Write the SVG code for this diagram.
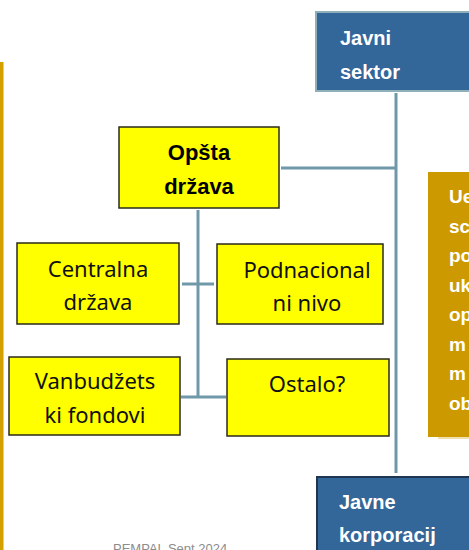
<svg xmlns="http://www.w3.org/2000/svg" width="469" height="550" viewBox="0 0 469 550">
<style>
.y{fill:#ffff00;stroke:#2a2a1a;stroke-width:1.5}
.b{fill:#336699}
.tn{font-family:"Noto Sans","Liberation Sans",sans-serif;font-size:22px;fill:#111;text-anchor:middle}
.tb{font-family:"Liberation Sans",Arial,sans-serif;font-weight:bold;font-size:22px;fill:#000;text-anchor:middle}
.tw{font-family:"Liberation Sans",Arial,sans-serif;font-weight:bold;font-size:20px;fill:#fff}
.tg{font-family:"Liberation Sans",Arial,sans-serif;font-weight:bold;font-size:19px;fill:#fff}
.c{stroke:#6f98a8;stroke-width:3;fill:none}
</style>
<rect x="0" y="0" width="469" height="550" fill="#ffffff"/>
<rect id="left-bar" x="0" y="62" width="3.5" height="488" fill="#d4a000"/>
<g id="connectors">
<line class="c" x1="396" y1="93" x2="396" y2="473"/>
<line class="c" x1="281" y1="168" x2="396" y2="168"/>
<line class="c" x1="198" y1="210" x2="198" y2="398"/>
<line class="c" x1="182" y1="284" x2="214" y2="284"/>
<line class="c" x1="181" y1="397" x2="226" y2="397"/>
</g>
<g id="javni-sektor">
<rect class="b" x="316" y="12" width="160" height="79" stroke="#8fb0b8" stroke-width="2"/>
<text class="tw" x="340" y="45">Javni</text>
<text class="tw" x="340" y="79">sektor</text>
</g>
<g id="opsta-drzava">
<rect class="y" x="119" y="127" width="160" height="81"/>
<text class="tb" x="199" y="160">Opšta</text>
<text class="tb" x="199" y="194">država</text>
</g>
<g id="centralna-drzava">
<rect class="y" x="17" y="243" width="162" height="81"/>
<text class="tn" x="98" y="277">Centralna</text>
<text class="tn" x="98" y="310">država</text>
</g>
<g id="podnacionalni-nivo">
<rect class="y" x="217" y="244" width="166" height="80"/>
<text class="tn" x="307" y="278">Podnacional</text>
<text class="tn" x="307" y="311">ni nivo</text>
</g>
<g id="vanbudzetski-fondovi">
<rect class="y" x="9" y="357" width="171" height="78"/>
<text class="tn" x="95" y="389">Vanbudžets</text>
<text class="tn" x="95" y="423">ki fondovi</text>
</g>
<g id="ostalo">
<rect class="y" x="227" y="359" width="162" height="77"/>
<text class="tn" x="307" y="392">Ostalo?</text>
</g>
<g id="note">
<rect x="428" y="172" width="50" height="265" fill="#cc9900"/>
<line x1="438" y1="438" x2="469" y2="438" stroke="#e0c060" stroke-width="1"/>
<text class="tg" x="449" y="203">Ue</text>
<text class="tg" x="449" y="233">sc</text>
<text class="tg" x="449" y="262">po</text>
<text class="tg" x="449" y="292">uk</text>
<text class="tg" x="449" y="321">op</text>
<text class="tg" x="449" y="351">m</text>
<text class="tg" x="449" y="380">m</text>
<text class="tg" x="449" y="410">ob</text>
</g>
<g id="javne-korporacije">
<rect class="b" x="317" y="477" width="160" height="80" stroke="#1f3550" stroke-width="2"/>
<text class="tw" x="339" y="509">Javne</text>
<text class="tw" x="339" y="542">korporacij</text>
</g>
<text x="113" y="553" font-family="Liberation Sans, Arial, sans-serif" font-size="13" fill="#8c8c8c">PEMPAL Sept 2024</text>
</svg>
